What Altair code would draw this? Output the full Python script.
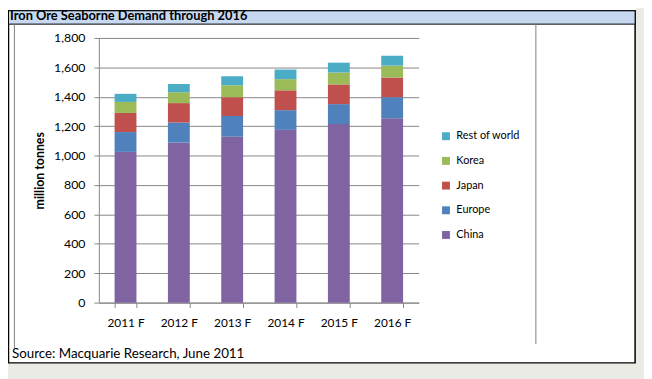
import altair as alt
import pandas as pd

years = ["2011 F", "2012 F", "2013 F", "2014 F", "2015 F", "2016 F"]
china = [1025, 1088, 1128, 1175, 1215, 1254]
europe = [135, 137, 141, 134, 135, 143]
japan = [130, 132, 128, 135, 134, 134]
korea = [75, 74, 82, 76, 81, 81]
rest = [55, 56, 61, 65, 67, 67]

series_names = ["China", "Europe", "Japan", "Korea", "Rest of world"]
series_vals = [china, europe, japan, korea, rest]
legend_order = ["Rest of world", "Korea", "Japan", "Europe", "China"]
legend_colors = ["#4BACC6", "#9BBB59", "#C0504D", "#4F81BD", "#8064A2"]

rows = []
for si, (name, vals) in enumerate(zip(series_names, series_vals)):
    for y, v in zip(years, vals):
        rows.append({"year": y, "region": name, "value": v, "ord": si})
df = pd.DataFrame(rows)

title_text = "Iron Ore Seaborne Demand through 2016"
source_text = "Source: Macquarie Research, June 2011"
y_title = "million tonnes"

FONT = "Lato"
GRAY_BG = "#EBEBE5"
one = pd.DataFrame({"k": [0]})

# decorations (plot coordinates; plot origin is at page (100, 36))
gray_right = alt.Chart(one).mark_rect(fill=GRAY_BG, strokeWidth=0).encode(
    x=alt.value(543.5), x2=alt.value(560), y=alt.value(-30), y2=alt.value(350))
gray_bottom = alt.Chart(one).mark_rect(fill=GRAY_BG, strokeWidth=0).encode(
    x=alt.value(-95), x2=alt.value(560), y=alt.value(329.5), y2=alt.value(350))
box = alt.Chart(one).mark_rect(fill=None, stroke="black", strokeWidth=1.5).encode(
    x=alt.value(-91.5), x2=alt.value(543), y=alt.value(-27.5), y2=alt.value(329))
band = alt.Chart(one).mark_rect(fill="#C6D9F1", stroke="black", strokeWidth=1).encode(
    x=alt.value(-91.5), x2=alt.value(543), y=alt.value(-27.5), y2=alt.value(-14))
lline = alt.Chart(one).mark_rule(color="#808080", strokeWidth=1).encode(
    x=alt.value(-85.5), y=alt.value(-14), y2=alt.value(314))
rline = alt.Chart(one).mark_rule(color="#808080", strokeWidth=1).encode(
    x=alt.value(442.5), y=alt.value(-14), y2=alt.value(310))
ttl = alt.Chart(one).mark_text(text=title_text, font=FONT, fontSize=13, fontWeight="bold",
                               align="left", baseline="alphabetic", color="#000000").encode(
    x=alt.value(-90), y=alt.value(-18))
src = alt.Chart(one).mark_text(text=source_text, font=FONT, fontSize=13.5,
                               align="left", baseline="alphabetic", color="#000000").encode(
    x=alt.value(-88), y=alt.value(324))

bars = alt.Chart(df).mark_bar().encode(
    x=alt.X("year:N", sort=years,
            scale=alt.Scale(paddingInner=0.59, paddingOuter=0.295),
            axis=alt.Axis(title=None, labelAngle=0, tickBand="extent", tickSize=5,
                          labelPadding=10, grid=False, domainColor="#868686",
                          tickColor="#868686", labelFont=FONT, labelFontSize=12,
                          labelColor="#000000")),
    y=alt.Y("value:Q", stack="zero",
            scale=alt.Scale(domain=[0, 1800], nice=False),
            axis=alt.Axis(title=y_title, values=list(range(0, 1801, 200)), format=",d",
                          tickSize=5, labelPadding=9, grid=True, gridColor="#868686",
                          domainColor="#868686", tickColor="#868686",
                          labelFont=FONT, labelFontSize=12.5, labelColor="#000000",
                          titleFont=FONT, titleFontSize=12.5, titleFontWeight="bold",
                          titleColor="#000000", titleX=-60, titleY=134,
                          titleAlign="center", titleBaseline="middle", titleAngle=-90)),
    color=alt.Color("region:N",
                    scale=alt.Scale(domain=legend_order, range=legend_colors),
                    legend=alt.Legend(title=None, orient="none", legendX=346, legendY=94,
                                      symbolType="square", symbolSize=64,
                                      symbolStrokeWidth=0, rowPadding=13,
                                      labelFont=FONT, labelFontSize=11,
                                      labelColor="#000000", labelOffset=5, padding=0)),
    order=alt.Order("ord:Q", sort="ascending"),
)

chart = alt.layer(gray_right, gray_bottom, box, band, lline, rline, ttl, src, bars).properties(
    width=324, height=268,
    padding={"left": 92, "top": 28, "right": 228, "bottom": 75},
    autosize=alt.AutoSizeParams(type="none"),
    background="white",
).configure_view(stroke=None)

chart.save("out.html", embed_options={"renderer": "svg", "actions": False})
